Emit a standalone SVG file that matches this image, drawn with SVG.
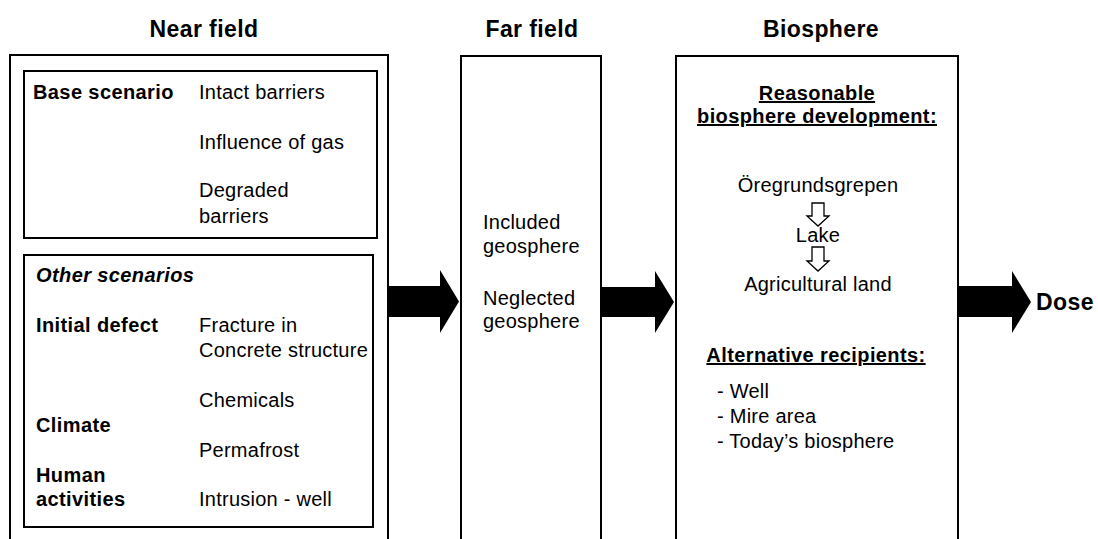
<svg xmlns="http://www.w3.org/2000/svg" width="1098" height="539" viewBox="0 0 1098 539">
  <style>
    text { font-family: "Liberation Sans", Arial, sans-serif; fill: #000; }
    .head { font-size: 23px; font-weight: bold; letter-spacing: 0.4px; text-anchor: middle; }
    .body { font-size: 20px; letter-spacing: 0.25px; }
    .bold { font-size: 20px; font-weight: bold; letter-spacing: 0.4px; }
    .ital { font-size: 20px; font-weight: bold; font-style: italic; letter-spacing: 0.4px; }
    .mid { text-anchor: middle; }
    .ul { text-decoration: underline; }
    .box { fill: #fff; stroke: #000; stroke-width: 2; }
    .big { fill: #000; stroke: none; }
    .small { fill: #fff; stroke: #000; stroke-width: 1.3; stroke-linejoin: miter; }
  </style>

  <rect width="1098" height="539" fill="#fff"/>

  <!-- Column headings -->
  <g id="headings">
    <text class="head" x="204" y="37">Near field</text>
    <text class="head" x="532" y="37">Far field</text>
    <text class="head" x="821" y="37">Biosphere</text>
  </g>

  <!-- Near field column -->
  <g id="near-field">
    <rect class="box" x="10" y="55" width="378" height="520"/>
    <g id="base-scenario">
      <rect class="box" x="24" y="71" width="353" height="167"/>
      <text class="bold" x="33" y="99">Base scenario</text>
      <text class="body" x="199" y="99">Intact barriers</text>
      <text class="body" x="199" y="149">Influence of gas</text>
      <text class="body" x="199" y="197">Degraded</text>
      <text class="body" x="199" y="223">barriers</text>
    </g>
    <g id="other-scenarios">
      <rect class="box" x="24" y="255" width="349" height="272"/>
      <text class="ital" x="36" y="282">Other scenarios</text>
      <text class="bold" x="36" y="332">Initial defect</text>
      <text class="body" x="199" y="332">Fracture in</text>
      <text class="body" x="199" y="357">Concrete structure</text>
      <text class="body" x="199" y="407">Chemicals</text>
      <text class="bold" x="36" y="432">Climate</text>
      <text class="body" x="199" y="457">Permafrost</text>
      <text class="bold" x="36" y="482">Human</text>
      <text class="bold" x="36" y="506">activities</text>
      <text class="body" x="199" y="506">Intrusion - well</text>
    </g>
  </g>

  <!-- Far field column -->
  <g id="far-field">
    <rect class="box" x="461" y="56" width="140" height="520"/>
    <text class="body" x="483" y="229">Included</text>
    <text class="body" x="483" y="253">geosphere</text>
    <text class="body" x="483" y="305">Neglected</text>
    <text class="body" x="483" y="328">geosphere</text>
  </g>

  <!-- Biosphere column -->
  <g id="biosphere">
    <rect class="box" x="676" y="56" width="282" height="520"/>
    <text class="bold mid ul" x="817" y="100">Reasonable</text>
    <text class="bold mid ul" x="817" y="123">biosphere development:</text>
    <text class="body mid" x="818" y="192">Öregrundsgrepen</text>
    <path class="small" d="M812,203 H824 V216 H829 L818,226 L807,216 H812 Z"/>
    <text class="body mid" x="818" y="242">Lake</text>
    <path class="small" d="M812,247 H824 V261 H829 L818,271 L807,261 H812 Z"/>
    <text class="body mid" x="818" y="291">Agricultural land</text>
    <text class="bold mid ul" x="816" y="362">Alternative recipients:</text>
    <text class="body" x="717" y="398">- Well</text>
    <text class="body" x="717" y="423">- Mire area</text>
    <text class="body" x="717" y="448">- Today’s biosphere</text>
  </g>

  <!-- Result -->
  <g id="dose">
    <text class="head" x="1036" y="310" style="text-anchor:start">Dose</text>
  </g>

  <!-- Flow arrows between the columns -->
  <g id="connectors">
    <path class="big" d="M389,286 H440 V270 L459,301.5 L440,333 V317 H389 Z"/>
    <path class="big" d="M602,287 H655 V271 L674,302 L655,333 V317 H602 Z"/>
    <path class="big" d="M959,286 H1012 V271 L1031,302 L1012,333 V317 H959 Z"/>
  </g>
</svg>
